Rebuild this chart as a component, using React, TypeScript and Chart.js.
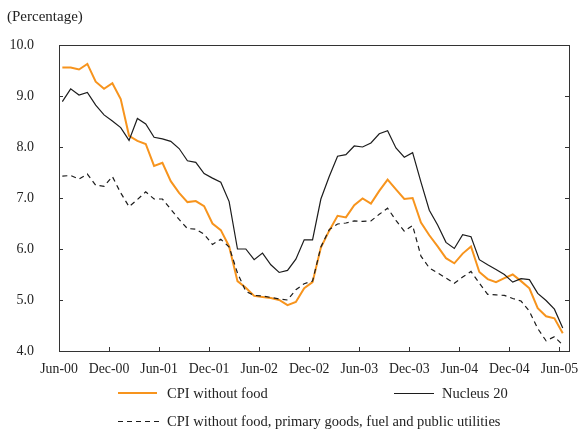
import React, { useEffect, useRef } from 'react';
import { Chart, registerables } from 'chart.js';

Chart.register(...registerables);

// Monthly observations, Jun-00 … Jun-05 (61 months)
const startYear = 2000;
const monthNames = ['Jan', 'Feb', 'Mar', 'Apr', 'May', 'Jun', 'Jul', 'Aug', 'Sep', 'Oct', 'Nov', 'Dec'];
const months: string[] = Array.from({ length: 61 }, (_, i) => {
  const m = 5 + i;
  const y = startYear + Math.floor(m / 12);
  return `${monthNames[m % 12]}-${String(y % 100).padStart(2, '0')}`;
});

const xTickLabels = ['Jun-00', 'Dec-00', 'Jun-01', 'Dec-01', 'Jun-02', 'Dec-02', 'Jun-03', 'Dec-03', 'Jun-04', 'Dec-04', 'Jun-05'];

const cpiWithoutFood = [
  9.56, 9.56, 9.52, 9.63, 9.28, 9.14, 9.25, 8.94, 8.22, 8.12,
  8.06, 7.63, 7.69, 7.33, 7.10, 6.92, 6.94, 6.84, 6.50, 6.37,
  6.05, 5.37, 5.24, 5.08, 5.06, 5.04, 5.00, 4.90, 4.96, 5.23,
  5.35, 6.03, 6.36, 6.65, 6.62, 6.86, 6.99, 6.89, 7.14, 7.36,
  7.17, 6.98, 7.00, 6.52, 6.27, 6.05, 5.82, 5.72, 5.91, 6.05,
  5.55, 5.41, 5.35, 5.43, 5.50, 5.37, 5.23, 4.84, 4.68, 4.64,
  4.35,
];

const nucleus20 = [
  8.89, 9.14, 9.02, 9.07, 8.82, 8.63, 8.51, 8.38, 8.13, 8.56,
  8.45, 8.19, 8.16, 8.11, 7.97, 7.73, 7.70, 7.48, 7.39, 7.31,
  6.93, 6.00, 6.00, 5.79, 5.92, 5.69, 5.54, 5.58, 5.80, 6.18,
  6.18, 6.98, 7.42, 7.82, 7.85, 8.02, 8.00, 8.08, 8.26, 8.32,
  7.98, 7.80, 7.89, 7.31, 6.76, 6.47, 6.13, 6.01, 6.28, 6.24,
  5.79, 5.69, 5.60, 5.50, 5.35, 5.42, 5.40, 5.13, 4.99, 4.82,
  4.45,
];

const cpiCore = [
  7.43, 7.44, 7.37, 7.47, 7.25, 7.23, 7.42, 7.10, 6.83, 6.97,
  7.12, 6.98, 6.98, 6.78, 6.58, 6.40, 6.39, 6.29, 6.09, 6.19,
  6.04, 5.53, 5.17, 5.09, 5.08, 5.05, 5.02, 5.00, 5.20, 5.32,
  5.37, 6.04, 6.38, 6.49, 6.51, 6.55, 6.54, 6.55, 6.68, 6.80,
  6.56, 6.35, 6.46, 5.86, 5.63, 5.53, 5.43, 5.33, 5.45, 5.56,
  5.33, 5.11, 5.10, 5.09, 5.03, 4.98, 4.78, 4.44, 4.20, 4.28,
  4.12,
];

const ORANGE = '#F7941D';
const DARK = '#1c1c1c';
const FONT = "'Liberation Serif', 'Times New Roman', serif";
const TEXT = '#222';

const framePlugin = {
  id: 'frameTicks',
  afterDraw(chart: any) {
    const { ctx, chartArea } = chart;
    const { left, right, top, bottom } = chartArea;
    ctx.save();
    ctx.strokeStyle = '#333';
    ctx.lineWidth = 1;
    ctx.strokeRect(Math.round(left) + 0.5, Math.round(top) + 0.5, Math.round(right - left), Math.round(bottom - top));
    const tl = 4;
    ctx.beginPath();
    const ys = chart.scales.y;
    ys.ticks.forEach((t: any) => {
      const py = Math.round(ys.getPixelForValue(t.value)) + 0.5;
      ctx.moveTo(left, py); ctx.lineTo(left + tl, py);
      ctx.moveTo(right, py); ctx.lineTo(right - tl, py);
    });
    const xs = chart.scales.x;
    xs.ticks.forEach((t: any) => {
      const px = Math.round(xs.getPixelForValue(t.value)) + 0.5;
      ctx.moveTo(px, bottom); ctx.lineTo(px, bottom - tl);
    });
    ctx.stroke();
    ctx.restore();
  },
};

function ChartCanvas() {
  const ref = useRef<HTMLCanvasElement | null>(null);
  useEffect(() => {
    if (!ref.current) return;
    const toPts = (arr: number[]) => arr.map((y, i) => ({ x: i, y }));
    const chart = new Chart(ref.current, {
      type: 'line',
      data: {
        labels: months,
        datasets: [
          {
            label: 'CPI without food, primary goods, fuel and public utilities',
            data: toPts(cpiCore),
            borderColor: DARK,
            borderWidth: 1.2,
            borderDash: [5, 4],
            pointRadius: 0,
            fill: false,
            tension: 0,
          },
          {
            label: 'Nucleus 20',
            data: toPts(nucleus20),
            borderColor: DARK,
            borderWidth: 1.2,
            pointRadius: 0,
            fill: false,
            tension: 0,
          },
          {
            label: 'CPI without food',
            data: toPts(cpiWithoutFood),
            borderColor: ORANGE,
            borderWidth: 2,
            pointRadius: 0,
            fill: false,
            tension: 0,
          },
        ],
      },
      options: {
        responsive: false,
        animation: false,
        devicePixelRatio: 1,
        layout: { padding: { top: 45, right: 12, left: 0, bottom: 0 } },
        plugins: {
          legend: { display: false },
          title: { display: false },
          tooltip: { enabled: false },
        },
        scales: {
          x: {
            type: 'linear',
            min: -0.4,
            max: 60.75,
            grid: { display: false, drawTicks: false },
            border: { display: false },
            afterBuildTicks: (s: any) => {
              s.ticks = xTickLabels.map((_, k) => ({ value: k * 6 - 0.4 }));
            },
            afterFit: (s: any) => {
              s.height = 78;
              s.paddingLeft = 0;
              s.paddingRight = 0;
            },
            ticks: {
              autoSkip: false,
              maxRotation: 0,
              minRotation: 0,
              padding: 10,
              color: TEXT,
              font: { family: FONT, size: 13.8 },
              callback: (_v: any, i: number) => xTickLabels[i],
            },
          },
          y: {
            min: 4,
            max: 10,
            grid: { display: false, drawTicks: false },
            border: { display: false },
            afterFit: (s: any) => {
              s.width = 59;
              s.paddingTop = 0;
              s.paddingBottom = 0;
            },
            ticks: {
              stepSize: 1,
              padding: 25,
              color: TEXT,
              font: { family: FONT, size: 14 },
              callback: (v: any) => Number(v).toFixed(1),
            },
          },
        },
      },
      plugins: [framePlugin],
    } as any);
    return () => chart.destroy();
  }, []);
  return <canvas ref={ref} width={581} height={429} style={{ position: 'absolute', left: 0, top: 0, width: 581, height: 429 }} />;
}

const textStyle: React.CSSProperties = {
  position: 'absolute',
  fontFamily: FONT,
  fontSize: 14.5,
  lineHeight: '17px',
  color: TEXT,
  whiteSpace: 'nowrap',
};

export default function App() {
  return (
    <div style={{ position: 'absolute', left: 0, top: 0, width: 581, height: 429, background: '#fff', overflow: 'hidden' }}>
      <ChartCanvas />
      <div style={{ ...textStyle, left: 7, top: 8, fontSize: 15 }}>(Percentage)</div>
      <svg style={{ position: 'absolute', left: 0, top: 0 }} width={581} height={429}>
        <line x1={118} y1={393} x2={157} y2={393} stroke={ORANGE} strokeWidth={2} />
        <line x1={394} y1={393.5} x2={434} y2={393.5} stroke={DARK} strokeWidth={1.2} />
        <line x1={118} y1={421.5} x2={161} y2={421.5} stroke={DARK} strokeWidth={1.2} strokeDasharray="5,4" />
      </svg>
      <div style={{ ...textStyle, left: 167, top: 385 }}>CPI without food</div>
      <div style={{ ...textStyle, left: 442, top: 385 }}>Nucleus 20</div>
      <div style={{ ...textStyle, left: 167, top: 413 }}>CPI without food, primary goods, fuel and public utilities</div>
    </div>
  );
}
